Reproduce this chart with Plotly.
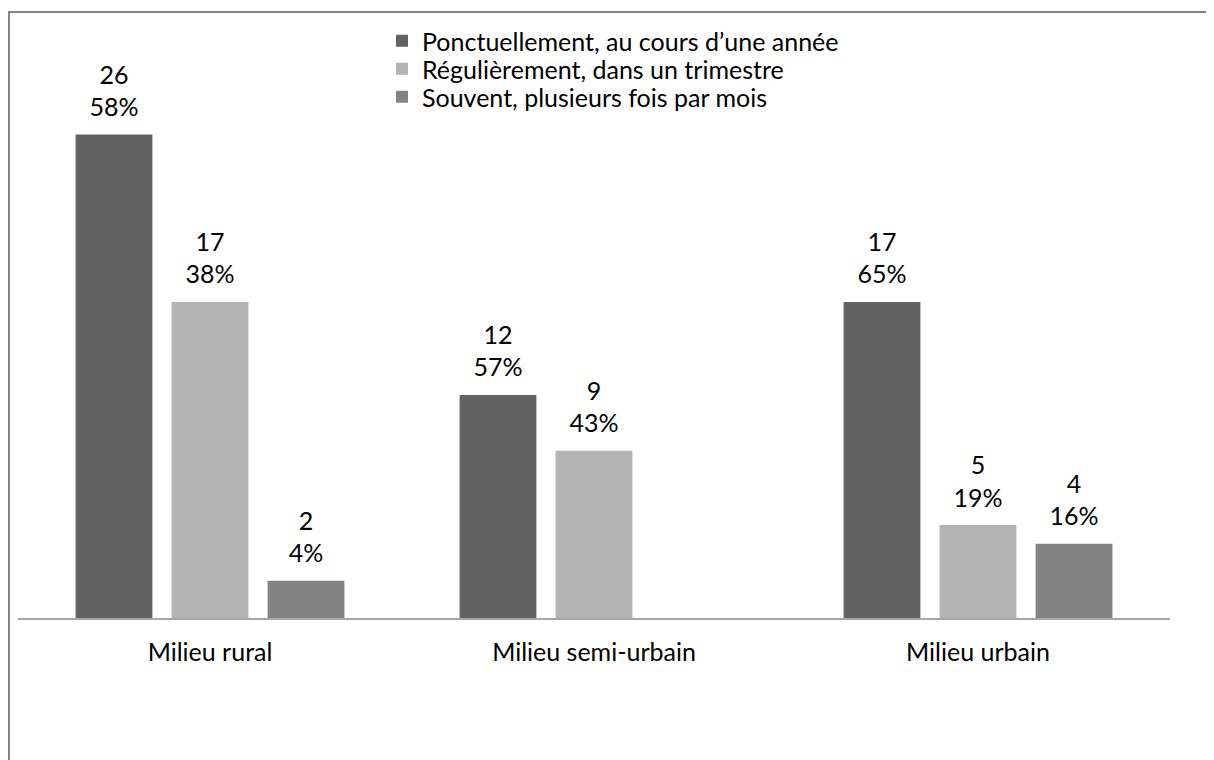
import plotly.graph_objects as go

categories = ["Milieu rural", "Milieu semi-urbain", "Milieu urbain"]
series_names = [
    "Ponctuellement, au cours d\u2019une année",
    "Régulièrement, dans un trimestre",
    "Souvent, plusieurs fois par mois",
]
ponctuellement = [26, 12, 17]
ponctuellement_pct = ["58%", "57%", "65%"]
regulierement = [17, 9, 5]
regulierement_pct = ["38%", "43%", "19%"]
souvent = [2, None, 4]
souvent_pct = ["4%", "", "16%"]

colors = ["#626262", "#b3b3b3", "#838383"]
FONT = "Lato"
FS = 25

# page is shown with an 8px body margin, so figure px = page px - 8
W, H = 1214, 760
L, R, T, B = 10, 52, 15, 150
pw, ph = W - L - R, H - T - B


def px_x(x):
    return (x - L) / pw


def px_y(y):
    return (H - B - y) / ph


legend_ids = ["legend", "legend2", "legend3"]
legend_tops = [10, 38, 66]

fig = go.Figure()
all_vals = [ponctuellement, regulierement, souvent]
all_pcts = [ponctuellement_pct, regulierement_pct, souvent_pct]
for i, (name, vals, pcts, col) in enumerate(zip(series_names, all_vals, all_pcts, colors)):
    fig.add_trace(go.Bar(
        x=categories, y=vals, name=name, marker_color=col,
        marker_line_width=0, legend=legend_ids[i], hoverinfo="skip",
    ))
for i, (vals, pcts) in enumerate(zip(all_vals, all_pcts)):
    texts = [f"{v}<br>{p}" if v is not None else "" for v, p in zip(vals, pcts)]
    fig.add_trace(go.Scatter(
        x=categories, y=vals, mode="markers+text", text=texts,
        textposition="top center", showlegend=False, hoverinfo="skip",
        marker=dict(size=18, color="rgba(0,0,0,0)"),
        textfont=dict(family=FONT, size=FS, color="black"),
        cliponaxis=False,
    ))

legend_common = dict(
    xanchor="left", yanchor="top",
    font=dict(family=FONT, size=FS, color="black"),
    bgcolor="rgba(0,0,0,0)", itemclick=False, borderwidth=0,
)

fig.update_layout(
    width=W, height=H,
    margin=dict(l=L, r=R, t=T, b=B, pad=0),
    paper_bgcolor="white", plot_bgcolor="white",
    barmode="group", bargap=0.25, bargroupgap=0.2,
    scattermode="group", scattergap=0.25,
    font=dict(family=FONT, size=FS, color="black"),
    showlegend=True,
    legend=dict(x=px_x(374), y=px_y(legend_tops[0]), **legend_common),
    legend2=dict(x=px_x(374), y=px_y(legend_tops[1]), **legend_common),
    legend3=dict(x=px_x(374), y=px_y(legend_tops[2]), **legend_common),
    xaxis=dict(
        showline=True, linecolor="#a6a6a6", linewidth=2,
        ticks="outside", ticklen=11, tickcolor="rgba(0,0,0,0)",
        tickfont=dict(family=FONT, size=FS, color="black"),
        showgrid=False, zeroline=False, fixedrange=True,
    ),
    yaxis=dict(
        range=[0, 32], visible=False, showgrid=False, zeroline=False,
        fixedrange=True,
    ),
    shapes=[dict(
        type="rect", xref="paper", yref="paper",
        x0=px_x(1), x1=px_x(W + 20), y0=px_y(H + 20), y1=px_y(4),
        line=dict(color="#858585", width=2), fillcolor="rgba(0,0,0,0)",
        layer="below",
    )],
)

fig.write_html("out.html")
